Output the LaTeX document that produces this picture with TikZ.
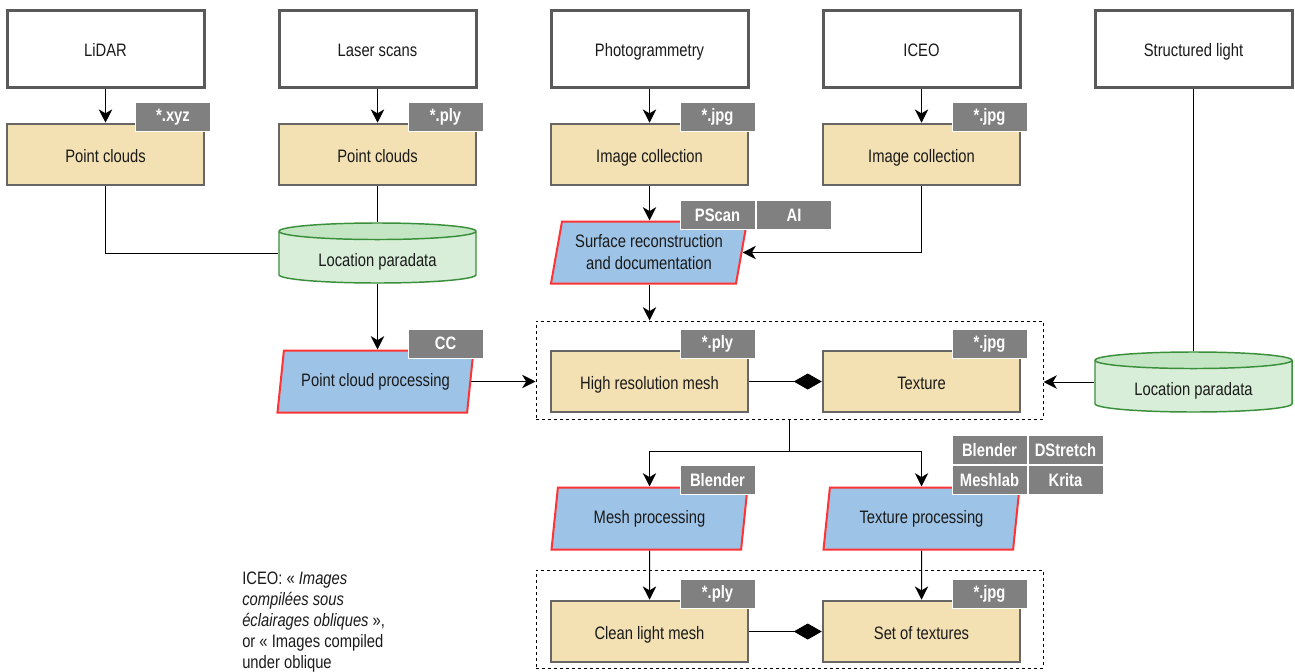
\documentclass[tikz,border=0pt]{standalone}
\usepackage{fontspec}
\setmainfont[FakeStretch=0.82]{Liberation Sans}
\usetikzlibrary{shapes.geometric,arrows.meta}

\definecolor{sourcegray}{HTML}{5A5A5A}
\definecolor{datagray}{HTML}{666666}
\definecolor{datatan}{HTML}{F3E1B4}
\definecolor{procred}{HTML}{FF3333}
\definecolor{procblue}{HTML}{9DC3E6}
\definecolor{paragreen}{HTML}{3A8F3A}
\definecolor{parabody}{HTML}{D8EED8}
\definecolor{paraend}{HTML}{C4E6C4}
\definecolor{taggray}{HTML}{808080}
\definecolor{inkblack}{HTML}{1A1A1A}

\newcommand{\diagfont}{\fontsize{13.5}{16.5}\selectfont}

\tikzstyle{source} = [draw=sourcegray,line width=2.25pt,fill=white,text=inkblack,font=\diagfont,text height=12pt,text depth=0pt,minimum width=147.75pt,minimum height=57.75pt]
\tikzstyle{data} = [draw=datagray,line width=1.9pt,fill=datatan,text=inkblack,font=\diagfont,text height=12pt,text depth=0pt,minimum width=147.75pt,minimum height=45.75pt]
\tikzstyle{process} = [trapezium,trapezium left angle=76,trapezium right angle=104,trapezium stretches body,draw=procred,line width=1.5pt,fill=procblue,text=inkblack,font=\diagfont,align=center,minimum width=147pt,minimum height=46.5pt]
\tikzstyle{paradata} = [cylinder,shape border rotate=90,aspect=0.13,draw=paragreen,line width=1.1pt,cylinder uses custom fill,cylinder body fill=parabody,cylinder end fill=paraend,text=inkblack,font=\diagfont,text height=11pt,text depth=0pt,minimum width=147.75pt,minimum height=45pt,anchor=shape center]
\tikzstyle{tag} = [fill=taggray,draw=white,line width=0.75pt,text=white,font=\diagfont\bfseries,inner sep=0pt,minimum width=56.25pt,minimum height=21.75pt]
\tikzstyle{group} = [draw,dash pattern=on 2.25pt off 2.25pt,line width=0.75pt,minimum width=380.25pt,minimum height=73.5pt]
\tikzstyle{link} = [draw,line width=0.75pt]

\begin{document}
\begin{tikzpicture}
      [x=0.75pt,y=-0.75pt,
      arrowdecorate/.style={link,-{Stealth[length=10pt,width=10pt,inset=3pt]}},
      diamonddecorate/.style={link,-{Diamond[length=21pt,width=12pt]}}]
      \useasboundingbox (0,0) rectangle (1295,671);
      %% sources and data
      \foreach \nodename/\x/\label in {lidar/105.5/LiDAR, laser/377.5/Laser scans,
        photo/649.5/Photogrammetry, iceo/921.5/ICEO, structured/1193.5/Structured light}
      {
        \node (\nodename) at (\x,48.5) [source] {\label};
      }
      \foreach \nodename/\x/\y/\label in {pcA/105.5/154.5/Point clouds, pcB/377.5/154.5/Point clouds,
        icA/649.5/154.5/Image collection, icB/921.5/154.5/Image collection,
        hrm/649.5/381.5/High resolution mesh, tex/921.5/381.5/Texture,
        clean/649.5/631.5/Clean light mesh, settex/921.5/631.5/Set of textures}
      {
        \node (\nodename) at (\x,\y) [data] {\label};
      }
      \node (locA) at (377.5,253) [paradata] {Location paradata};
      \node (locB) at (1193.5,382) [paradata] {Location paradata};
      \node (grpA) at (789.5,370) [group] {};
      \node (grpB) at (789.5,619) [group] {};
      %% processing steps
      \node (pcproc) at (375.5,381.5) [process] {Point cloud processing};
      \node (surf) at (649,252.5) [process] {Surface reconstruction\\and documentation};
      \node (meshproc) at (649.5,518.5) [process] {Mesh processing};
      \node (texproc) at (921.5,518.5) [process] {Texture processing};
      %% formats and tools
      \foreach \tagname/\x/\y/\label in {tagxyz/173/117/*.xyz, tagplyA/445.5/117/*.ply,
        tagjpgA/717.5/117/*.jpg, tagjpgB/989.5/117/*.jpg, tagcc/445.5/343.5/CC,
        tagpscan/717.5/215/PScan, tagai/794/215/AI, tagplyB/717.5/343.5/*.ply,
        tagjpgC/989.5/343.5/*.jpg, tagblendA/717.5/480/Blender, tagblendB/989.5/450/Blender,
        tagdstretch/1065.5/450/DStretch, tagmeshlab/989.5/480/Meshlab, tagkrita/1065.5/480/Krita,
        tagplyC/717.5/593.5/*.ply, tagjpgD/989.5/593.5/*.jpg}
      {
        \node (\tagname) at (\x,\y) [tag] {\label};
      }
      %% note
      \node (note) at (242,572) [anchor=north west,inner sep=0pt,align=left,text=inkblack,
        font=\fontsize{13.5}{15.75}\selectfont]
        {ICEO: « \textit{Images}\\\textit{compilées sous}\\\textit{éclairages obliques} »,\\or « Images compiled\\under oblique};
      %% edges or lines
      \foreach \startnode/\endnode in {lidar/pcA, laser/pcB, photo/icA, iceo/icB,
        meshproc/clean, texproc/settex}
      {
        \draw[arrowdecorate] (\startnode.south) -- (\endnode.north);
      }
      \draw[link] (pcA.south) |- (locA.west |- locA.shape center);
      \draw[link] (pcB.south) -- (locA.north);
      \draw[arrowdecorate] (locA.south) -- (pcproc.north -| locA.south);
      \draw[arrowdecorate] (pcproc.east) -- (grpA.west |- pcproc.east);
      \draw[link] (structured.south) -- (locB.north);
      \draw[arrowdecorate] (locB.west |- locB.shape center) -- (grpA.east |- locB.shape center);
      \draw[arrowdecorate] (icA.south) -- (surf.north -| icA.south);
      \draw[arrowdecorate] (icB.south) |- (surf.east);
      \draw[arrowdecorate] (surf.south -| hrm.north) -- (grpA.north -| hrm.north);
      \draw[link] (grpA.south) -- ++(0,32) coordinate (split);
      \draw[arrowdecorate] (split) -| (meshproc.north);
      \draw[arrowdecorate] (split) -| (texproc.north);
      \draw[diamonddecorate] (hrm.east) -- (tex.west);
      \draw[diamonddecorate] (clean.east) -- (settex.west);
\end{tikzpicture}
\end{document}
